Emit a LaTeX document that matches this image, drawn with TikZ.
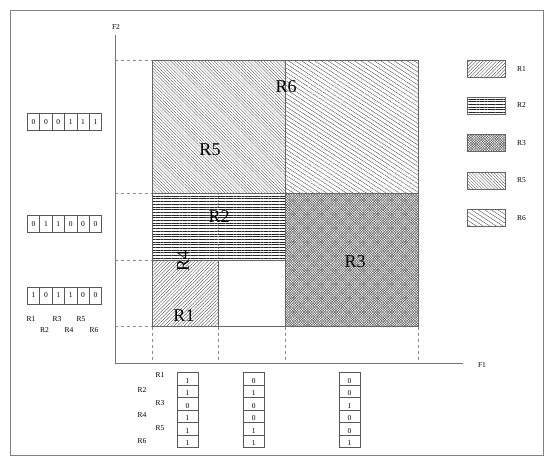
\documentclass[tikz,border=0pt]{standalone}
\usepackage{fontspec}
\setmainfont{Liberation Serif}
\usetikzlibrary{patterns.meta}
\tikzset{
  frameline/.style={draw=black!50, line width=0.8pt},
  axisline/.style={draw=black!55, line width=0.7pt},
  guide/.style={draw=black!45, dashed, dash pattern=on 3pt off 3pt, line width=0.5pt},
  regborder/.style={draw=black!60, line width=0.5pt},
  pR1/.style={pattern={Lines[angle=45,distance=2.4pt,line width=0.35pt]}, pattern color=black!75},
  pR2/.style={pattern={Lines[angle=0,distance=2.7pt,line width=0.45pt]}, pattern color=black!85},
  pR3a/.style={pattern={Lines[angle=45,distance=1.8pt,line width=0.45pt]}, pattern color=black!65},
  pR3b/.style={pattern={Lines[angle=-45,distance=1.8pt,line width=0.45pt]}, pattern color=black!65},
  pR5/.style={pattern={Lines[angle=-45,distance=2.2pt,line width=0.3pt]}, pattern color=black!70},
  pR6/.style={pattern={Lines[angle=-33,distance=3.6pt,line width=0.35pt]}, pattern color=black!75},
  biglbl/.style={font=\fontsize{18}{18}\selectfont, inner sep=0pt},
  smalllbl/.style={font=\fontsize{7.5}{8}\selectfont, inner sep=0pt},
  hcell/.style={draw=black!65, line width=0.5pt, minimum width=12.4pt, minimum height=17pt, inner sep=0pt, font=\fontsize{7.5}{8}\selectfont},
  vcell/.style={draw=black!65, line width=0.5pt, minimum width=20.5pt, minimum height=12.5pt, inner sep=0pt},
  legbox/.style={draw=black!60, line width=0.5pt, minimum width=38pt, minimum height=17pt, inner sep=0pt},
}
\begin{document}
\begin{tikzpicture}[x=1pt,y=1pt]
\useasboundingbox (0,0) rectangle (554,-466);
\draw[frameline] (10.5,-10.5) rectangle (543.5,-455);

% regions
\fill[pR6] (285,-60.5) rectangle (418,-193.5);
\fill[pR5] (152,-60.5) rectangle (285,-193.5);
\draw[regborder] (152,-60.5) rectangle (418,-193.5);
\draw[regborder] (285,-60.5) -- (285,-193.5);
\fill[pR2] (152,-193.5) rectangle (285,-260);
\draw[regborder] (152,-193.5) rectangle (285,-260);
\fill[pR3a] (285,-193.5) rectangle (418,-326.5);
\fill[pR3b] (285,-193.5) rectangle (418,-326.5);
\draw[regborder] (285,-193.5) rectangle (418,-326.5);
\fill[pR1] (152,-260) rectangle (218.5,-326.5);
\draw[regborder] (152,-260) rectangle (218.5,-326.5);
\draw[regborder] (152,-326.5) -- (285,-326.5);
\draw[guide, dash pattern=on 1.5pt off 1.5pt] (218.5,-193.5) -- (218.5,-260);

% axes
\coordinate (o) at (115,-363);
\coordinate (ytop) at (115,-35);
\coordinate (xend) at (463,-363);
\draw[axisline] (ytop) -- (o) -- (xend);
\node[smalllbl, anchor=base] (F2) at (116,-29) {F2};
\node[smalllbl, anchor=base] (F1) at (482,-367) {F1};

% guides
\foreach \yy/\nm in {60.5/a,193.5/b,260/c,326.5/d}{
  \coordinate (gl\nm) at (115,-\yy);
  \coordinate (gr\nm) at (152,-\yy);
  \draw[guide] (gl\nm) -- (gr\nm);
}
\foreach \xx/\nm in {152/a,218.5/b,285/c,418/d}{
  \coordinate (gt\nm) at (\xx,-326.5);
  \coordinate (gb\nm) at (\xx,-363);
  \draw[guide] (gt\nm) -- (gb\nm);
}

% region labels
\node[biglbl] (lR6) at (286,-87) {R6};
\node[biglbl] (lR5) at (210,-150) {R5};
\node[biglbl] (lR2) at (219,-217) {R2};
\node[biglbl] (lR3) at (355,-262) {R3};
\node[biglbl] (lR1) at (184,-316) {R1};
\node[biglbl, rotate=90] (lR4) at (183,-261) {R4};

% legend
\foreach \yy/\st/\nm in {68.7/pR1/R1,105.5/pR2/R2,180.5/pR5/R5,218/pR6/R6}{
  \node[legbox,\st] (leg\nm) at (486.7,-\yy) {};
  \node[smalllbl, anchor=west] (legt\nm) at (517,-\yy) {\nm};
}
\node[legbox,pR3a] (legR3) at (486.7,-143) {};
\node[legbox,pR3b] (legR3b) at (486.7,-143) {};
\node[smalllbl, anchor=west] (legtR3) at (517,-143) {R3};

% left arrays
\foreach \yy/\vals/\nm in {122/{0,0,0,1,1,1}/a,224.2/{0,1,1,0,0,0}/b,295.5/{1,0,1,1,0,0}/c}{
  \foreach \v [count=\i] in \vals {
    \node[hcell] (h\nm\i) at (27.3+12.4*\i-6.2,-\yy) {\v};
  }
}
\foreach \x/\t/\nm in {31/R1/a,57/R3/b,81/R5/c}{
  \node[smalllbl] (lt\nm) at (\x,-319) {\t};
}
\foreach \x/\t/\nm in {44.5/R2/a,69/R4/b,94/R6/c}{
  \node[smalllbl] (lb\nm) at (\x,-330) {\t};
}

% bottom arrays
\foreach \xx/\vals/\nm in {187.5/{1,1,0,1,1,1}/a,253.8/{0,1,0,0,1,1}/b,349.5/{0,0,1,0,0,1}/c}{
  \foreach \v [count=\i] in \vals {
    \node[vcell] (v\nm\i) at (\xx,-372.3-12.5*\i+6.25) {};
    \node[smalllbl, anchor=base] (vt\nm\i) at (\xx,-372.3-12.5*\i+1.5) {\v};
  }
}
\foreach \yy/\t/\xx in {375/R1/160,390/R2/142,402.7/R3/160,415/R4/142,427.7/R5/160,441/R6/142}{
  \node[smalllbl] (bl\t) at (\xx,-\yy) {\t};
}
\end{tikzpicture}
\end{document}
